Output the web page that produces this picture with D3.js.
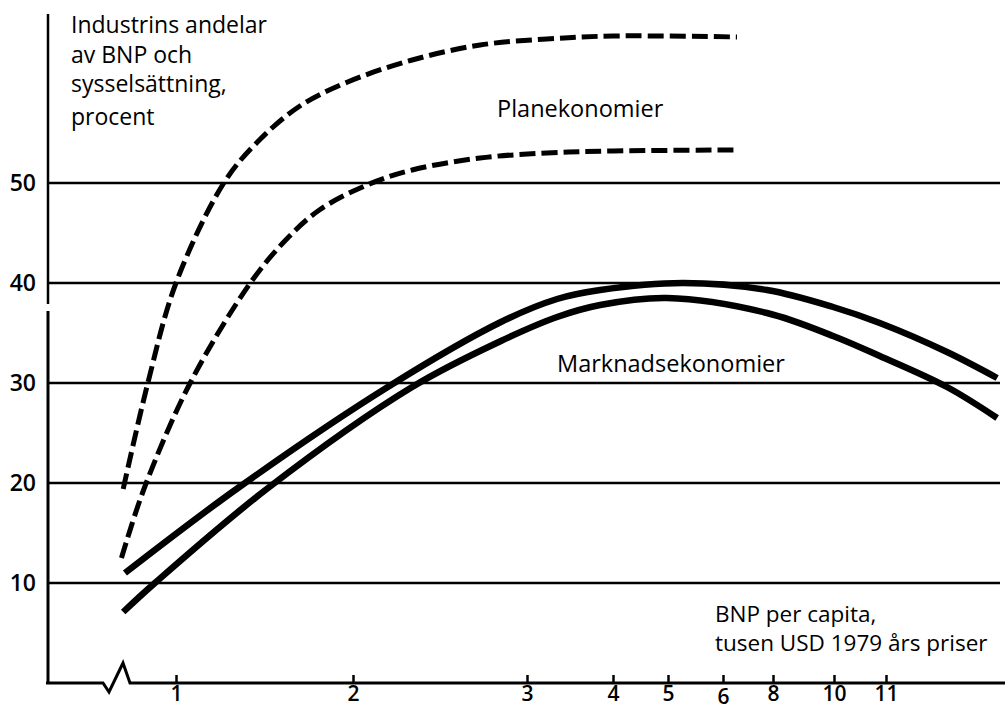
<!DOCTYPE html>
<html>
<head>
<meta charset="utf-8">
<script src="https://cdn.jsdelivr.net/npm/d3@7"></script>
<style>
  body { margin: 0; background: #fff; }
  svg { display: block; }
  text { font-family: "Open Sans", "Noto Sans", sans-serif; fill: #000; }
</style>
</head>
<body>
<svg width="1005" height="709"></svg>
<script>
const svg = d3.select('svg');

// x axis ticks (BNP per capita, tusen USD)
const xTicks = [1, 2, 3, 4, 5, 6, 8, 10, 11];
const yTicks = [10, 20, 30, 40, 50];

// Planekonomier (dashed)
const planUpperX = [0.70, 0.84, 1.0, 1.27, 1.46, 1.70, 1.97, 2.34, 2.73, 3.23, 4.0, 6.56];
const planUpperY = [19.4, 30, 40, 50, 54.1, 57.7, 60.1, 62.3, 63.8, 64.4, 64.7, 64.6];
const planLowerX = [0.69, 0.82, 1.08, 1.42, 1.62, 1.81, 2.08, 2.34, 2.73, 3.23, 4.0, 6.56];
const planLowerY = [12.5, 19.5, 30, 40, 44.3, 47.3, 49.8, 51.3, 52.5, 53, 53.2, 53.3];

// Marknadsekonomier (solid)
const markUpperX = [0.71, 1.35, 2.2, 2.85, 3.35, 3.85, 5.27, 7.76, 9.97, 10.88, 12.07, 12.95];
const markUpperY = [11, 19.5, 29.6, 36.1, 38.4, 39.3, 40, 39.3, 37.6, 36, 33.1, 30.5];
const markLowerX = [0.70, 0.88, 1.52, 2.34, 2.85, 3.35, 3.85, 4.98, 7.76, 9.97, 10.88, 12.07, 12.95];
const markLowerY = [7.1, 10, 19.5, 29.6, 34.2, 36.6, 37.8, 38.5, 37, 34.7, 32.7, 29.6, 26.5];

const zip = (xs, ys) => xs.map((x, i) => ({x: x, y: ys[i]}));

const axisX = 48, axisY = 683, rightEdge = 1000;

// the original uses an uneven, hand-drawn x scale
const xScale = d3.scaleLinear()
  .domain([0.5, 1, 2, 3, 4, 5, 6, 8, 10, 11, 13])
  .range([88, 176, 353, 527, 613, 668, 723, 773, 834, 886, 1000]);

const yScale = d3.scaleLinear()
  .domain([0, 50])
  .range([axisY, 183]);

// grid lines
svg.append('g').selectAll('line').data(yTicks)
  .enter().append('line')
    .attr('x1', axisX).attr('x2', rightEdge)
    .attr('y1', d => yScale(d)).attr('y2', d => yScale(d))
    .attr('stroke', '#000').attr('stroke-width', 2.5);

// y axis
const yAxis = svg.append('g')
  .attr('transform', `translate(${axisX - 11},0)`)
  .call(d3.axisLeft(yScale).tickValues(yTicks).tickSize(0).tickPadding(1));
yAxis.select('.domain').remove();
yAxis.selectAll('text').attr('font-size', 23).attr('font-family', '"Open Sans"').attr('font-weight', 600);

svg.append('line')
  .attr('x1', axisX).attr('x2', axisX)
  .attr('y1', 14).attr('y2', 304)
  .attr('stroke', '#000').attr('stroke-width', 2.5);
svg.append('line')
  .attr('x1', axisX).attr('x2', axisX)
  .attr('y1', 311).attr('y2', axisY + 1)
  .attr('stroke', '#000').attr('stroke-width', 3);

// x axis with a break
const bx = 103;
svg.append('path')
  .attr('d', `M${axisX - 2},${axisY}H${bx}L${bx + 6},${axisY + 9}L${bx + 20},${axisY - 20}L${bx + 27},${axisY}H1005`)
  .attr('fill', 'none').attr('stroke', '#000').attr('stroke-width', 3)
  .attr('stroke-linejoin', 'miter');

const xAxis = svg.append('g')
  .attr('transform', `translate(0,${axisY})`)
  .call(d3.axisBottom(xScale).tickValues(xTicks).tickSizeInner(-8).tickSizeOuter(0).tickPadding(4));
xAxis.select('.domain').remove();
xAxis.selectAll('line').attr('stroke-width', 2.5);
xAxis.selectAll('text').attr('font-size', 21).attr('font-weight', 600)
  .attr('dy', d => d === 6 ? '0.82em' : '0.68em');

// curves
const line = d3.line()
  .x(d => xScale(d.x))
  .y(d => yScale(d.y))
  .curve(d3.curveCatmullRom.alpha(0.5));

const series = [
  {pts: zip(planUpperX, planUpperY), dash: '16,6', w: 5},
  {pts: zip(planLowerX, planLowerY), dash: '16,6', w: 5},
  {pts: zip(markUpperX, markUpperY), dash: null, w: 6.5},
  {pts: zip(markLowerX, markLowerY), dash: null, w: 6.5},
];

svg.append('g').selectAll('path').data(series)
  .enter().append('path')
    .attr('d', d => line(d.pts))
    .attr('fill', 'none')
    .attr('stroke', '#000')
    .attr('stroke-width', d => d.w)
    .attr('stroke-dasharray', d => d.dash);

// labels
const title = svg.append('text').attr('font-size', 23);
[['Industrins andelar', 33], ['av BNP och', 63], ['sysselsättning,', 92], ['procent', 125]]
  .forEach(([t, y]) => title.append('tspan').attr('x', 71).attr('y', y).text(t));

svg.append('text').attr('x', 497).attr('y', 117).attr('font-size', 23.5).text('Planekonomier');
svg.append('text').attr('x', 557).attr('y', 372).attr('font-size', 23.5).text('Marknadsekonomier');

svg.append('text').attr('x', 715).attr('y', 622).attr('font-size', 22.5).text('BNP per capita,');
svg.append('text').attr('x', 715).attr('y', 651).attr('font-size', 22.5).text('tusen USD 1979 års priser');
</script>
</body>
</html>
